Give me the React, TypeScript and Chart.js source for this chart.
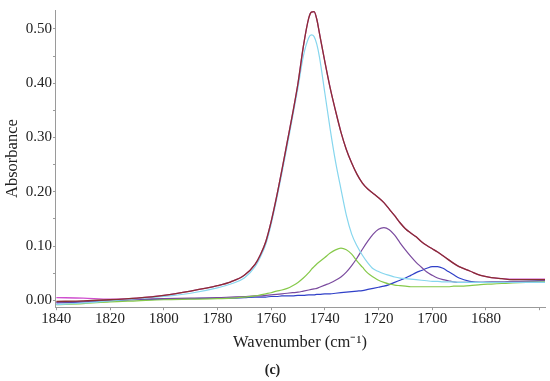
import React, { useEffect, useRef } from "react";
import { Chart, registerables } from "chart.js";

Chart.register(...registerables);

// Wavenumber grid (cm-1)
const wavenumbers = [1840, 1830, 1820, 1810, 1800, 1790, 1780, 1775, 1770, 1766, 1764, 1762, 1760, 1758, 1756, 1754, 1752, 1750, 1748, 1746, 1745, 1744, 1743, 1742, 1740, 1738, 1736, 1734, 1732, 1730, 1728, 1726, 1724, 1722, 1720, 1718, 1716, 1714, 1712, 1710, 1708, 1706, 1704, 1702, 1700, 1698, 1696, 1694, 1692, 1690, 1686, 1682, 1678, 1674, 1670, 1665, 1658];

// Measured spectrum
const measured = [-0.002, -0.001, 0.001, 0.004, 0.009, 0.017, 0.027, 0.034, 0.046, 0.066, 0.084, 0.108, 0.145, 0.190, 0.240, 0.292, 0.344, 0.400, 0.468, 0.520, 0.531, 0.532, 0.518, 0.492, 0.440, 0.391, 0.349, 0.310, 0.278, 0.253, 0.232, 0.216, 0.205, 0.197, 0.189, 0.180, 0.168, 0.156, 0.143, 0.132, 0.124, 0.117, 0.108, 0.101, 0.095, 0.089, 0.082, 0.075, 0.068, 0.062, 0.054, 0.046, 0.042, 0.040, 0.038, 0.038, 0.038];

// Fitted sum
const fitted = [0.005, 0.004, 0.002, 0.004, 0.009, 0.017, 0.027, 0.034, 0.046, 0.066, 0.084, 0.108, 0.145, 0.190, 0.240, 0.292, 0.344, 0.400, 0.468, 0.520, 0.531, 0.532, 0.518, 0.492, 0.440, 0.391, 0.349, 0.310, 0.278, 0.253, 0.232, 0.216, 0.205, 0.197, 0.189, 0.180, 0.168, 0.156, 0.143, 0.132, 0.124, 0.117, 0.108, 0.101, 0.095, 0.089, 0.082, 0.075, 0.068, 0.062, 0.054, 0.046, 0.042, 0.040, 0.039, 0.039, 0.039];

// Component bands
const band1745 = [-0.008, -0.005, -0.001, 0.003, 0.007, 0.013, 0.023, 0.030, 0.041, 0.062, 0.080, 0.103, 0.140, 0.185, 0.234, 0.285, 0.338, 0.392, 0.450, 0.484, 0.489, 0.486, 0.472, 0.448, 0.382, 0.315, 0.255, 0.205, 0.157, 0.122, 0.100, 0.083, 0.069, 0.058, 0.053, 0.049, 0.046, 0.043, 0.041, 0.040, 0.039, 0.038, 0.037, 0.036, 0.035, 0.035, 0.034, 0.034, 0.034, 0.033, 0.033, 0.033, 0.033, 0.033, 0.033, 0.033, 0.033];

const band1734 = [-0.008, -0.006, -0.003, -0.001, 0.001, 0.002, 0.003, 0.004, 0.006, 0.008, 0.010, 0.012, 0.014, 0.017, 0.019, 0.022, 0.027, 0.033, 0.041, 0.051, 0.057, 0.062, 0.067, 0.071, 0.079, 0.087, 0.093, 0.096, 0.093, 0.085, 0.072, 0.061, 0.050, 0.043, 0.037, 0.033, 0.030, 0.028, 0.027, 0.026, 0.025, 0.025, 0.025, 0.025, 0.025, 0.025, 0.025, 0.025, 0.026, 0.026, 0.027, 0.029, 0.030, 0.031, 0.032, 0.033, 0.034];

const band1718 = [-0.004, -0.002, 0.000, 0.002, 0.003, 0.004, 0.005, 0.006, 0.007, 0.008, 0.008, 0.009, 0.010, 0.011, 0.012, 0.013, 0.014, 0.015, 0.017, 0.019, 0.020, 0.021, 0.022, 0.024, 0.028, 0.032, 0.037, 0.043, 0.052, 0.064, 0.078, 0.094, 0.109, 0.122, 0.131, 0.134, 0.130, 0.120, 0.106, 0.093, 0.081, 0.070, 0.061, 0.052, 0.046, 0.041, 0.038, 0.036, 0.034, 0.033, 0.033, 0.033, 0.034, 0.034, 0.035, 0.035, 0.036];

const band1699 = [-0.005, -0.003, -0.001, 0.001, 0.002, 0.003, 0.004, 0.004, 0.005, 0.006, 0.006, 0.006, 0.007, 0.007, 0.008, 0.008, 0.008, 0.009, 0.009, 0.010, 0.010, 0.010, 0.011, 0.011, 0.012, 0.012, 0.013, 0.014, 0.015, 0.016, 0.017, 0.018, 0.020, 0.022, 0.024, 0.026, 0.029, 0.033, 0.037, 0.041, 0.046, 0.051, 0.055, 0.059, 0.062, 0.062, 0.059, 0.053, 0.047, 0.041, 0.035, 0.033, 0.033, 0.033, 0.034, 0.035, 0.036];

const xTicks = [1840, 1820, 1800, 1780, 1760, 1740, 1720, 1700, 1680, 1660];
const yTickLabels = ["0.00", "0.10", "0.20", "0.30", "0.40", "0.50"];

const FONT = "'Liberation Serif', 'Times New Roman', serif";

function toPoints(values: number[]) {
  return values.map((v, i) => ({ x: wavenumbers[i], y: v }));
}

export default function App() {
  const ref = useRef<HTMLCanvasElement | null>(null);

  useEffect(() => {
    if (!ref.current) return;
    const mk = (label: string, values: number[], color: string, order: number, width = 1.2) => ({
      label,
      data: toPoints(values),
      borderColor: color,
      backgroundColor: color,
      borderWidth: width,
      pointRadius: 0,
      fill: false,
      cubicInterpolationMode: "monotone" as const,
      order,
    });
    const chart = new Chart(ref.current, {
      type: "line",
      data: {
        datasets: [
          mk("Measured", measured, "#883030", 0, 1.3),
          mk("Fit", fitted, "#cf4fcf", 1, 1.3),
          mk("1745", band1745, "#86d6ee", 2),
          mk("1734", band1734, "#86c94a", 3),
          mk("1718", band1718, "#7a4a9e", 4),
          mk("1699", band1699, "#3040c8", 5),
        ],
      },
      options: {
        animation: false,
        responsive: false,
        layout: { padding: { top: 4.5, right: 5, left: 0, bottom: 0 } },
        plugins: {
          legend: { display: false },
          tooltip: { enabled: false },
          title: {
            display: true,
            text: "(c)",
            position: "bottom",
            color: "#222",
            font: { family: FONT, size: 14, weight: "bold" },
            padding: { top: 0, bottom: 2 },
          },
        },
        scales: {
          x: {
            type: "linear",
            reverse: true,
            min: 1658,
            max: 1840.5,
            afterFit: (s: any) => {
              s.height = 55;
            },
            afterBuildTicks: (s: any) => {
              s.ticks = xTicks.map((v) => ({ value: v }));
            },
            border: { display: true, color: "#9a9a9a", width: 1 },
            grid: { display: true, drawOnChartArea: false, drawTicks: true, tickLength: 3, color: "#9a9a9a" },
            ticks: {
              includeBounds: false,
              autoSkip: false,
              maxRotation: 0,
              padding: 0,
              color: "#222",
              font: { family: FONT, size: 15 },
              callback: (v: any) => (v === 1660 ? "" : String(v)),
            },
            title: {
              display: true,
              text: "Wavenumber (cm⁻¹)",
              color: "#222",
              font: { family: FONT, size: 16.5 },
              padding: { top: 0, bottom: 10 },
            },
          },
          y: {
            type: "linear",
            min: -0.0127,
            max: 0.535,
            afterFit: (s: any) => {
              s.width = 55;
            },
            border: { display: true, color: "#9a9a9a", width: 1 },
            grid: { display: true, drawOnChartArea: false, drawTicks: true, tickLength: 2, color: "#9a9a9a" },
            ticks: {
              includeBounds: false,
              stepSize: 0.05,
              padding: 1,
              color: "#222",
              font: { family: FONT, size: 15 },
              callback: (v: any) => {
                const k = Math.round(v * 100);
                return k % 10 === 0 ? yTickLabels[k / 10] ?? "" : "";
              },
            },
            title: {
              display: true,
              text: "Absorbance",
              color: "#222",
              font: { family: FONT, size: 16.5 },
              padding: { top: 3, bottom: 0 },
            },
          },
        },
      },
    });
    return () => chart.destroy();
  }, []);

  return (
    <div style={{ position: "fixed", left: 0, top: 0, width: 550, height: 381, background: "#fff" }}>
      <canvas ref={ref} width={550} height={381} style={{ display: "block" }} />
    </div>
  );
}
